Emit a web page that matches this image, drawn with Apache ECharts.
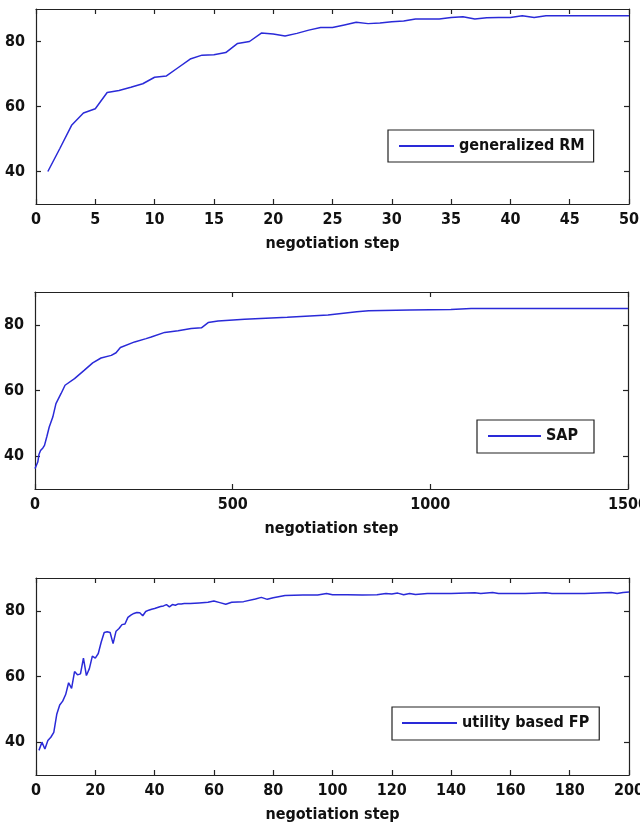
<!DOCTYPE html>
<html>
<head>
<meta charset="utf-8">
<script src="https://cdn.jsdelivr.net/npm/echarts@6/dist/echarts.min.js"></script>
<style>
html,body{margin:0;padding:0;background:#fff;}
#chart{width:640px;height:827px;}
</style>
</head>
<body>
<div id="chart"></div>
<script>
// ---- data ----
const rmSteps = [1,2,3,4,5,6,7,8,9,10,11,12,13,14,15,16,17,18,19,20,21,22,23,24,25,26,27,28,29,30,31,32,33,34,35,36,37,38,39,40,41,42,43,44,45,46,47,48,49,50];
const rmValues = [40,47,54.2,58,59.3,64.3,64.9,65.9,67,69,69.4,72,74.6,75.8,75.9,76.6,79.4,80,82.6,82.3,81.7,82.5,83.5,84.3,84.3,85.1,85.9,85.5,85.7,86.1,86.3,86.9,86.9,86.9,87.4,87.6,86.9,87.3,87.4,87.4,87.9,87.4,87.9,87.9,87.9,87.9,87.9,87.9,87.9,87.9];

const sapSteps = [0,7,10,14,20,24,30,36,45,53,66,76,100,125,146,167,193,205,216,252,281,294,328,362,395,421,438,463,530,638,741,814,844,948,1052,1103,1500];
const sapValues = [36.2,38.2,40.5,41.7,42.5,43.3,46,48.9,51.9,56,59.1,61.6,63.6,66.2,68.4,69.9,70.7,71.5,73.1,74.8,75.8,76.3,77.7,78.2,78.9,79.1,80.7,81.2,81.7,82.3,83.0,84.0,84.3,84.5,84.7,85.0,85.0];

const fpSteps = [1,2,3,4,5,6,7,8,9,10,11,12,13,14,15,16,17,18,19,20,21,22,23,24,25,26,27,28,29,30,31,32,33,34,35,36,37,38,39,40,41,42,43,44,45,46,47,48,49,50,52,55,58,60,62,64,66,70,74,76,78,80,84,90,95,98,100,105,110,115,118,120,122,124,126,128,132,140,148,150,154,156,165,172,174,185,194,196,198,200];
const fpValues = [37.5,40,37.9,40.5,41.5,43,48.5,51.3,52.5,54.5,58.1,56.4,61.5,60.5,60.8,65.6,60.3,62.4,66.2,65.6,67,70.5,73.4,73.6,73.4,70,73.8,74.6,75.8,76,78,78.7,79.2,79.5,79.4,78.5,79.8,80.2,80.5,80.7,81,81.3,81.5,81.9,81.2,81.9,81.7,82.1,82.1,82.2,82.2,82.4,82.6,83.0,82.5,82.0,82.6,82.8,83.6,84.1,83.5,84.0,84.7,84.8,84.8,85.3,84.9,84.9,84.8,84.9,85.3,85.1,85.4,84.9,85.3,85.0,85.3,85.3,85.5,85.3,85.6,85.3,85.3,85.5,85.3,85.3,85.6,85.3,85.6,85.7];

const seriesNames = ['generalized RM','SAP','utility based FP'];
const yTicks = [40,60,80];
const xAxisTitle = 'negotiation step';

// ---- build ----
const pairs = (xs, ys) => xs.map((x, i) => [x, ys[i]]);
const FONT = "'DejaVu Sans Condensed','Liberation Sans',sans-serif";
const FS = 16;
const LINE = '#2a2ad8';
const AX = '#222';

const grids = [
  {left:36, right:11, top:9, height:195, outerBoundsMode:'none', containLabel:false},
  {left:35, right:12, top:292, height:197, outerBoundsMode:'none', containLabel:false},
  {left:36, right:11, top:578, height:197, outerBoundsMode:'none', containLabel:false}
];
const xCfg = [
  {min:0, max:50, interval:5},
  {min:0, max:1500, interval:500},
  {min:0, max:200, interval:20}
];
const txt = {color:'#111', fontFamily:FONT, fontSize:FS, fontWeight:'bold'};

const xAxes = [], yAxes = [];
grids.forEach((g, i) => {
  xAxes.push({
    type:'value', gridIndex:i, position:'bottom', min:xCfg[i].min, max:xCfg[i].max, interval:xCfg[i].interval,
    axisLine:{show:true, onZero:false, lineStyle:{color:AX, width:1.2}},
    axisTick:{show:true, inside:true, length:5, lineStyle:{color:AX, width:1.2}},
    axisLabel:Object.assign({show:true, margin:8, formatter:(v) => String(v), hideOverlap:false, showMinLabel:true, showMaxLabel:true}, txt),
    splitLine:{show:false},
    name:xAxisTitle, nameLocation:'middle', nameGap:32,
    nameTextStyle:txt
  });
  xAxes.push({
    type:'value', gridIndex:i, position:'top', min:xCfg[i].min, max:xCfg[i].max, interval:xCfg[i].interval,
    axisLine:{show:true, onZero:false, lineStyle:{color:AX, width:1.2}},
    axisTick:{show:true, inside:true, length:5, lineStyle:{color:AX, width:1.2}},
    axisLabel:{show:false}, splitLine:{show:false}
  });
  yAxes.push({
    type:'value', gridIndex:i, position:'left', min:30, max:90,
    axisLine:{show:true, onZero:false, lineStyle:{color:AX, width:1.2}},
    axisTick:{show:true, inside:true, length:5, customValues:yTicks, lineStyle:{color:AX, width:1.2}},
    axisLabel:Object.assign({show:true, margin:11, customValues:yTicks}, txt),
    splitLine:{show:false}
  });
  yAxes.push({
    type:'value', gridIndex:i, position:'right', min:30, max:90,
    axisLine:{show:true, onZero:false, lineStyle:{color:AX, width:1.2}},
    axisTick:{show:true, inside:true, length:5, customValues:yTicks, lineStyle:{color:AX, width:1.2}},
    axisLabel:{show:false}, splitLine:{show:false}
  });
});

const datasets = [pairs(rmSteps, rmValues), pairs(sapSteps, sapValues), pairs(fpSteps, fpValues)];
const series = datasets.map((d, i) => ({
  name: seriesNames[i], type:'line', xAxisIndex:i*2, yAxisIndex:i*2, data:d,
  symbol:'none', smooth:false, animation:false,
  lineStyle:{color:LINE, width:1.5}, itemStyle:{color:LINE}
}));

const legendPos = [
  {left:388, top:130, padding:[7,9,7,11], iw:55, tw:124},
  {left:477, top:420, padding:[7,13,8,11], iw:53, tw:35},
  {left:392, top:707, padding:[7,10,8,10], iw:55, tw:124}
];
const legends = legendPos.map((p, i) => ({
  data:[{name:seriesNames[i], icon:'rect'}],
  left:p.left, top:p.top, padding:p.padding, orient:'horizontal',
  itemWidth:p.iw, itemHeight:2, selectedMode:false,
  borderColor:'#222', borderWidth:1.2, backgroundColor:'#fff',
  textStyle:Object.assign({width:p.tw, lineHeight:18, overflow:'none'}, txt)
}));

const chart = echarts.init(document.getElementById('chart'), null, {renderer:'canvas'});
chart.setOption({
  animation:false,
  backgroundColor:'#fff',
  grid:grids,
  xAxis:xAxes,
  yAxis:yAxes,
  legend:legends,
  series:series
});
</script>
</body>
</html>
